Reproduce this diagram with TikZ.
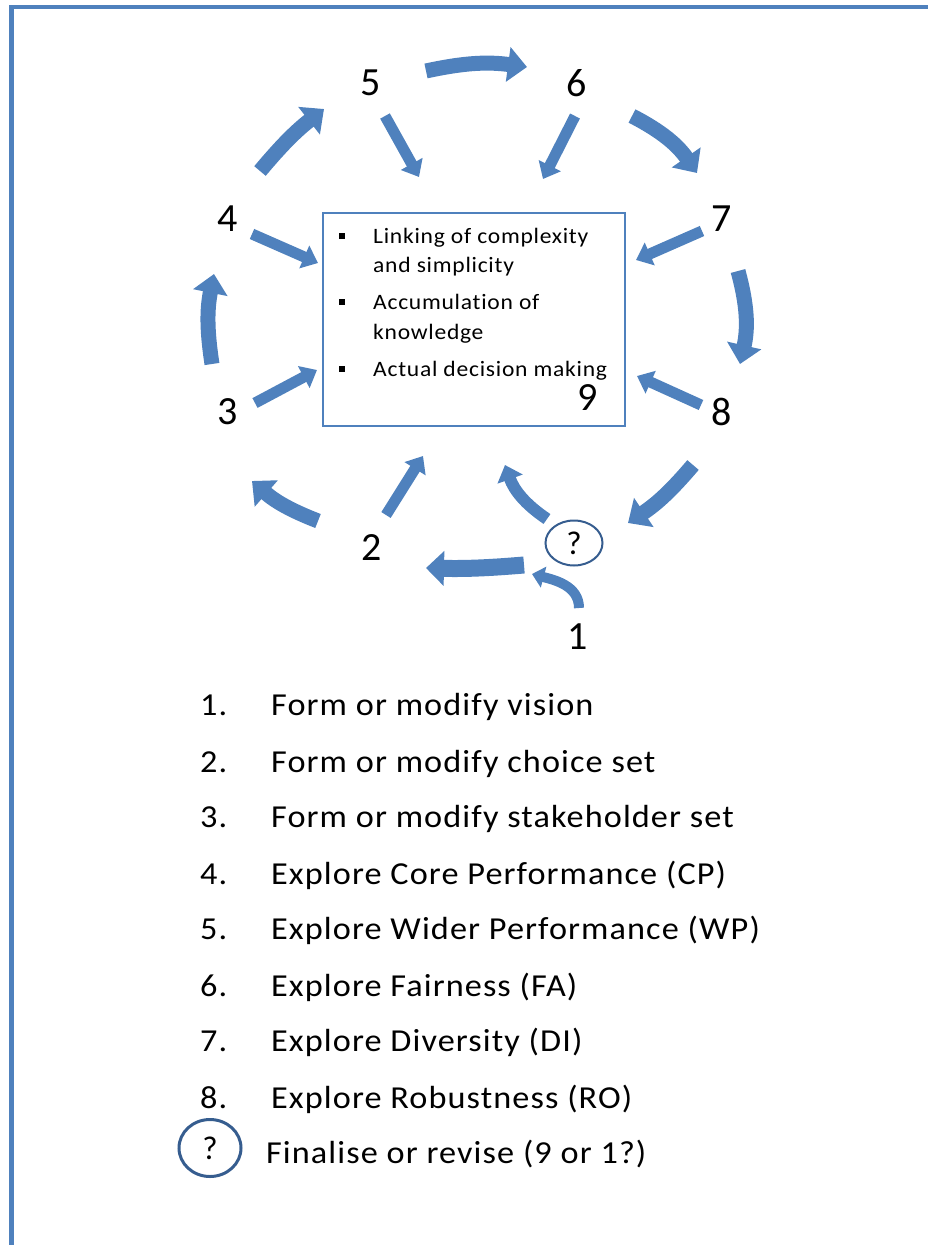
\documentclass[tikz,border=0pt]{standalone}
\usepackage{fontspec}
\setmainfont{Carlito}
\newfontfamily\spacedfont[LetterSpace=3.4, FakeStretch=1.07, Ligatures=NoCommon]{Carlito}
\usetikzlibrary{arrows.meta,shapes.geometric}
\definecolor{accent}{HTML}{4F81BD}
\definecolor{darkring}{HTML}{365D8F}
\begin{document}
\begin{tikzpicture}[x=1pt,y=-1pt,
  ring/.style={-{Triangle[width=34pt,length=19pt]}, line width=15pt, draw=accent},
  spoke/.style={-{Triangle[width=24pt,length=15pt]}, line width=11pt, draw=accent},
  num/.style={font=\fontsize{40}{48}\selectfont, inner sep=0pt},
  boxtxt/.style={font=\spacedfont\fontsize{22}{26}\selectfont, anchor=base west, inner sep=0pt},
  listtxt/.style={font=\spacedfont\fontsize{32}{38}\selectfont, anchor=base west, inner sep=0pt},
  bul/.style={fill=black, minimum size=6pt, inner sep=0pt},
  qmark/.style={draw=darkring, ellipse, inner sep=0pt, font=\fontsize{33}{38}\selectfont}
]
\useasboundingbox (0,0) rectangle (928,1245);
% frame
\draw[accent, line width=4.5pt] (11.5,1260) -- (11.5,7) -- (940,7);

% central box
\node[draw=accent, line width=2pt, minimum width=302pt, minimum height=213pt, inner sep=0pt] (box) at (474,319.5) {};
\node[bul] (b1) at (342,236) {};
\node[bul] (b2) at (342,302) {};
\node[bul] (b3) at (342,369) {};
\node[boxtxt] (t1) at (373,243) {Linking of complexity};
\node[boxtxt] (t2) at (373,272) {and simplicity};
\node[boxtxt] (t3) at (373,309) {Accumulation of};
\node[boxtxt] (t4) at (373,339) {knowledge};
\node[boxtxt] (t5) at (373,376) {Actual decision making};
\node[num] (n9) at (588,398) {9};

% step numbers
\node[num] (n5) at (371,83) {5};
\node[num] (n6) at (577,83) {6};
\node[num] (n4) at (228,219) {4};
\node[num] (n7) at (722,219) {7};
\node[num] (n3) at (228,412) {3};
\node[num] (n8) at (722,412) {8};
\node[num] (n2) at (372,548) {2};
\node[num] (n1) at (578,637) {1};
\node[qmark, line width=2pt, minimum width=57pt, minimum height=45pt] (q) at (574,543) {?};

% arrow end points
\coordinate (r56a) at (426,71);  \coordinate (r56b) at (527,67);
\coordinate (r67a) at (632,116); \coordinate (r67b) at (697,173);
\coordinate (r78a) at (738,271); \coordinate (r78b) at (740,364);
\coordinate (r8qa) at (693,465); \coordinate (r8qb) at (628,523);
\coordinate (rq2a) at (524,565); \coordinate (rq2b) at (426,568);
\coordinate (r23a) at (318,521); \coordinate (r23b) at (252,481);
\coordinate (r34a) at (212,364); \coordinate (r34b) at (214,274);
\coordinate (r45a) at (260,171); \coordinate (r45b) at (324,109);

\coordinate (s5a) at (385,116); \coordinate (s5b) at (419,177);
\coordinate (s6a) at (575,116); \coordinate (s6b) at (543,179);
\coordinate (s4a) at (252,234); \coordinate (s4b) at (318,263);
\coordinate (s7a) at (702,231); \coordinate (s7b) at (636,260);
\coordinate (s3a) at (255,403); \coordinate (s3b) at (317,370);
\coordinate (s8a) at (701,405); \coordinate (s8b) at (637,376);
\coordinate (s2a) at (386,515); \coordinate (s2b) at (423,456);
\coordinate (sqa) at (547,519); \coordinate (sqb) at (505,465);
\coordinate (s1a) at (579,608); \coordinate (s1b) at (532,574);

% cycle arrows
\draw[ring] (r56a) to[bend left=10] (r56b);
\draw[ring] (r67a) to[bend left=14] (r67b);
\draw[ring] (r78a) to[bend left=14] (r78b);
\draw[ring] (r8qa) to[bend left=8] (r8qb);
\draw[ring, line width=17pt, -{Triangle[width=34pt,length=18pt]}] (rq2a) to[bend left=3] (rq2b);
\draw[ring] (r23a) to[bend left=10] (r23b);
\draw[ring] (r34a) to[bend left=10] (r34b);
\draw[ring] (r45a) to[bend left=6] (r45b);

% spokes into the box
\draw[spoke] (s5a) -- (s5b);
\draw[spoke] (s6a) -- (s6b);
\draw[spoke] (s4a) -- (s4b);
\draw[spoke] (s7a) -- (s7b);
\draw[spoke] (s3a) -- (s3b);
\draw[spoke] (s8a) -- (s8b);
\draw[spoke] (s2a) -- (s2b);
\draw[spoke, line width=12pt, -{Triangle[width=26pt,length=15pt]}] (sqa) to[bend left=18] (sqb);
\draw[spoke, line width=10pt, -{Triangle[width=21pt,length=12pt]}] (s1a) to[out=90,in=-15] (s1b);

% legend
\node[listtxt] (l1) at (200,715) {1.};   \node[listtxt] (m1) at (271,715) {Form or modify vision};
\node[listtxt] (l2) at (200,772) {2.};   \node[listtxt] (m2) at (271,772) {Form or modify choice set};
\node[listtxt] (l3) at (200,827) {3.};   \node[listtxt] (m3) at (271,827) {Form or modify stakeholder set};
\node[listtxt] (l4) at (200,884) {4.};   \node[listtxt] (m4) at (271,884) {Explore Core Performance (CP)};
\node[listtxt] (l5) at (200,939) {5.};   \node[listtxt] (m5) at (271,939) {Explore Wider Performance (WP)};
\node[listtxt] (l6) at (200,996) {6.};   \node[listtxt] (m6) at (271,996) {Explore Fairness (FA)};
\node[listtxt] (l7) at (200,1051) {7.};  \node[listtxt] (m7) at (271,1051) {Explore Diversity (DI)};
\node[listtxt] (l8) at (200,1108) {8.};  \node[listtxt] (m8) at (271,1108) {Explore Robustness (RO)};
\node[qmark, line width=3pt, minimum width=62pt, minimum height=57pt] (lq) at (210,1148) {?};
\node[listtxt] (m9) at (266,1163) {Finalise or revise (9 or 1?)};
\end{tikzpicture}
\end{document}
